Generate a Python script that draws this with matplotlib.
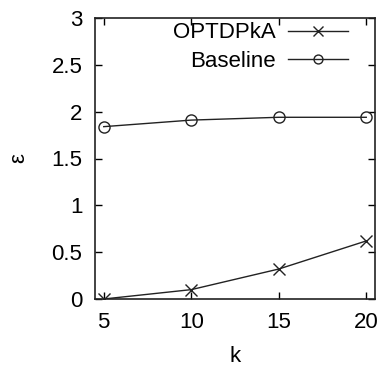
import matplotlib
matplotlib.use("Agg")
import matplotlib.pyplot as plt

k_values = [5, 10, 15, 20]
optdpka = [0.0, 0.10, 0.32, 0.62]
baseline = [1.84, 1.91, 1.94, 1.94]
x_ticks = [5, 10, 15, 20]
y_ticks = [0, 0.5, 1, 1.5, 2, 2.5, 3]
y_tick_labels = ["0", "0.5", "1", "1.5", "2", "2.5", "3"]

plt.rcParams['font.family'] = ['Liberation Sans', 'DejaVu Sans']
fs = 16

fig = plt.figure(figsize=(3.79, 3.67), dpi=100)
ax = fig.add_axes([95/379, 68/367, 280/379, 281/367])

lc = '#222222'
ax.plot(k_values, optdpka, color=lc, lw=1.0, marker='x', ms=9, mew=1.0,
        mfc='none', label='OPTDPkA')
ax.plot(k_values, baseline, color=lc, lw=1.0, marker='o', ms=8, mew=1.0,
        mfc='none', label='Baseline')

ax.set_xlim(4.5, 20.5)
ax.set_ylim(0, 3)
ax.set_xticks(x_ticks)
ax.set_yticks(y_ticks)
ax.set_yticklabels(y_tick_labels)
ax.tick_params(direction='in', length=5, width=1, top=True, right=True,
               labelsize=fs, colors='black')
ax.tick_params(axis='x', pad=9.5)
ax.tick_params(axis='y', pad=9)
for s in ax.spines.values():
    s.set_linewidth(1.2)
    s.set_color('#222222')

ax.set_xlabel('k', fontsize=fs, labelpad=9)
ax.set_ylabel('ε', fontsize=fs, labelpad=16)

leg = ax.legend(loc='upper right', bbox_to_anchor=(0.905, 0.984), frameon=False,
                fontsize=fs, markerfirst=False, handlelength=2.7,
                handletextpad=0.59, labelspacing=0.33, borderpad=0,
                borderaxespad=0, markerscale=0.8)

fig.savefig('out.png', dpi=100)
